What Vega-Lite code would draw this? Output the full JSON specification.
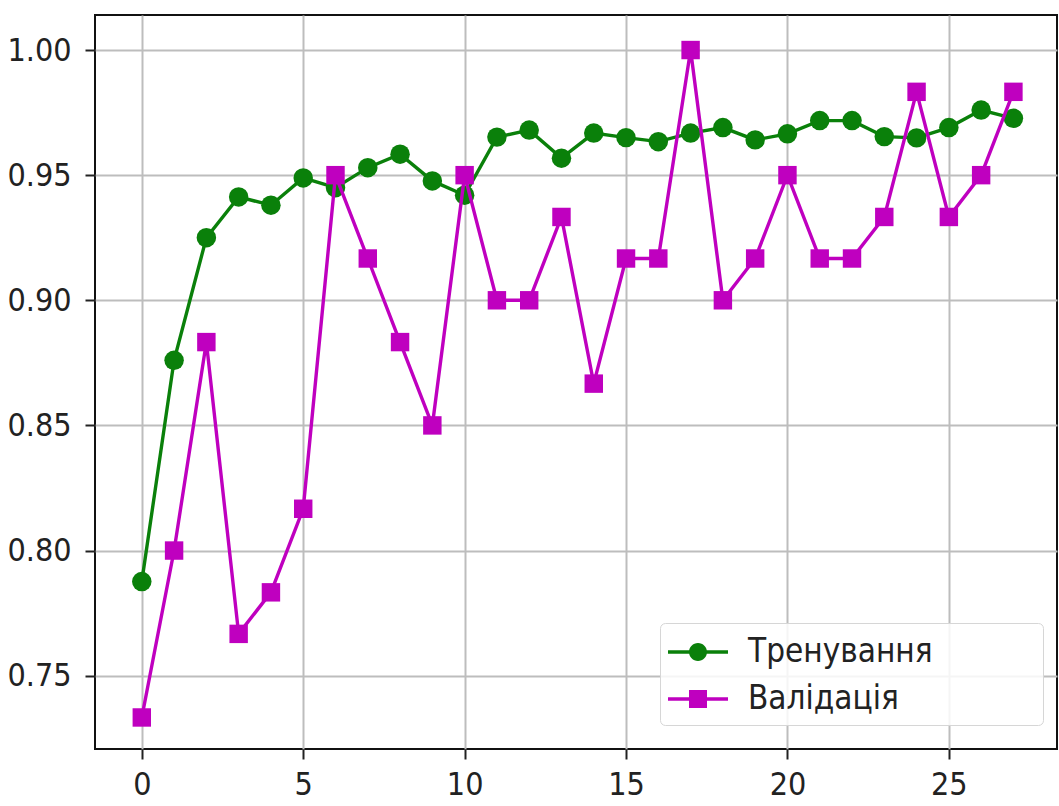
{
  "$schema": "https://vega.github.io/schema/vega-lite/v6.json",
  "width": 962,
  "height": 734,
  "autosize": {"type": "none"},
  "padding": {"left": 95, "top": 15, "right": 2, "bottom": 57},
  "background": "white",
  "config": {
    "view": {"stroke": "#111111", "strokeWidth": 2},
    "axis": {
      "domain": false,
      "grid": true,
      "gridColor": "#bdbdbd",
      "gridWidth": 2,
      "tickColor": "#222222",
      "tickWidth": 2,
      "tickSize": 10,
      "labelFont": "DejaVu Sans Condensed, DejaVu Sans",
      "labelFontSize": 32,
      "labelColor": "#222222",
      "title": null
    }
  },
  "data": {
    "values": [
      {"epoch": 0, "value": 0.7876, "series": "Тренування"},
      {"epoch": 1, "value": 0.876, "series": "Тренування"},
      {"epoch": 2, "value": 0.925, "series": "Тренування"},
      {"epoch": 3, "value": 0.9413, "series": "Тренування"},
      {"epoch": 4, "value": 0.938, "series": "Тренування"},
      {"epoch": 5, "value": 0.9489, "series": "Тренування"},
      {"epoch": 6, "value": 0.945, "series": "Тренування"},
      {"epoch": 7, "value": 0.953, "series": "Тренування"},
      {"epoch": 8, "value": 0.9584, "series": "Тренування"},
      {"epoch": 9, "value": 0.9477, "series": "Тренування"},
      {"epoch": 10, "value": 0.942, "series": "Тренування"},
      {"epoch": 11, "value": 0.9652, "series": "Тренування"},
      {"epoch": 12, "value": 0.968, "series": "Тренування"},
      {"epoch": 13, "value": 0.9568, "series": "Тренування"},
      {"epoch": 14, "value": 0.9668, "series": "Тренування"},
      {"epoch": 15, "value": 0.965, "series": "Тренування"},
      {"epoch": 16, "value": 0.9634, "series": "Тренування"},
      {"epoch": 17, "value": 0.9668, "series": "Тренування"},
      {"epoch": 18, "value": 0.969, "series": "Тренування"},
      {"epoch": 19, "value": 0.9641, "series": "Тренування"},
      {"epoch": 20, "value": 0.9665, "series": "Тренування"},
      {"epoch": 21, "value": 0.9718, "series": "Тренування"},
      {"epoch": 22, "value": 0.9718, "series": "Тренування"},
      {"epoch": 23, "value": 0.9654, "series": "Тренування"},
      {"epoch": 24, "value": 0.9649, "series": "Тренування"},
      {"epoch": 25, "value": 0.969, "series": "Тренування"},
      {"epoch": 26, "value": 0.976, "series": "Тренування"},
      {"epoch": 27, "value": 0.9727, "series": "Тренування"},
      {"epoch": 0, "value": 0.7333, "series": "Валідація"},
      {"epoch": 1, "value": 0.8, "series": "Валідація"},
      {"epoch": 2, "value": 0.8833, "series": "Валідація"},
      {"epoch": 3, "value": 0.7667, "series": "Валідація"},
      {"epoch": 4, "value": 0.7833, "series": "Валідація"},
      {"epoch": 5, "value": 0.8167, "series": "Валідація"},
      {"epoch": 6, "value": 0.95, "series": "Валідація"},
      {"epoch": 7, "value": 0.9167, "series": "Валідація"},
      {"epoch": 8, "value": 0.8833, "series": "Валідація"},
      {"epoch": 9, "value": 0.85, "series": "Валідація"},
      {"epoch": 10, "value": 0.95, "series": "Валідація"},
      {"epoch": 11, "value": 0.9, "series": "Валідація"},
      {"epoch": 12, "value": 0.9, "series": "Валідація"},
      {"epoch": 13, "value": 0.9333, "series": "Валідація"},
      {"epoch": 14, "value": 0.8667, "series": "Валідація"},
      {"epoch": 15, "value": 0.9167, "series": "Валідація"},
      {"epoch": 16, "value": 0.9167, "series": "Валідація"},
      {"epoch": 17, "value": 1.0, "series": "Валідація"},
      {"epoch": 18, "value": 0.9, "series": "Валідація"},
      {"epoch": 19, "value": 0.9167, "series": "Валідація"},
      {"epoch": 20, "value": 0.95, "series": "Валідація"},
      {"epoch": 21, "value": 0.9167, "series": "Валідація"},
      {"epoch": 22, "value": 0.9167, "series": "Валідація"},
      {"epoch": 23, "value": 0.9333, "series": "Валідація"},
      {"epoch": 24, "value": 0.9833, "series": "Валідація"},
      {"epoch": 25, "value": 0.9333, "series": "Валідація"},
      {"epoch": 26, "value": 0.95, "series": "Валідація"},
      {"epoch": 27, "value": 0.9833, "series": "Валідація"}
    ]
  },
  "encoding": {
    "x": {
      "field": "epoch",
      "type": "quantitative",
      "scale": {"domain": [-1.45, 28.35], "nice": false, "zero": false},
      "axis": {"values": [0, 5, 10, 15, 20, 25], "labelPadding": 10}
    },
    "y": {
      "field": "value",
      "type": "quantitative",
      "scale": {"domain": [0.7207, 1.014], "nice": false, "zero": false},
      "axis": {"values": [0.75, 0.8, 0.85, 0.9, 0.95, 1.0], "format": ".2f", "labelPadding": 14}
    },
    "color": {
      "field": "series",
      "type": "nominal",
      "scale": {"domain": ["Тренування", "Валідація"], "range": ["#0a800a", "#bf00bf"]},
      "legend": {
        "title": null,
        "orient": "none",
        "legendX": 565,
        "legendY": 608,
        "direction": "vertical",
        "padding": 9,
        "rowPadding": 10,
        "symbolSize": 1600,
        "symbolOffset": 9,
        "symbolStrokeWidth": 0,
        "symbolOpacity": 1,
        "labelOffset": 30,
        "labelLimit": 600,
        "labelFont": "DejaVu Sans Condensed, DejaVu Sans",
        "labelFontSize": 33,
        "labelColor": "#222222",
        "fillColor": "rgba(255,255,255,0.85)",
        "strokeColor": "#d6d6d6",
        "cornerRadius": 5,
        "encode": {
          "symbols": {
            "update": {
              "shape": {"signal": "datum.value === 'Тренування' ? 'M-1.5,-0.085H1.5V0.085H-1.5Z M0.45,0A0.45,0.45 0 1,1 -0.45,0A0.45,0.45 0 1,1 0.45,0Z M16.8,0' : 'M-1.5,-0.085H1.5V0.085H-1.5Z M-0.45,-0.45H0.45V0.45H-0.45Z M16.8,0'"}
            }
          }
        }
      }
    }
  },
  "layer": [
    {
      "transform": [{"filter": "datum.series === 'Тренування'"}],
      "mark": {"type": "line", "strokeWidth": 3.4}
    },
    {
      "transform": [{"filter": "datum.series === 'Тренування'"}],
      "mark": {"type": "point", "filled": true, "opacity": 1, "size": 380, "shape": "circle"}
    },
    {
      "transform": [{"filter": "datum.series === 'Валідація'"}],
      "mark": {"type": "line", "strokeWidth": 3.4}
    },
    {
      "transform": [{"filter": "datum.series === 'Валідація'"}],
      "mark": {"type": "point", "filled": true, "opacity": 1, "size": 340, "shape": "square"}
    }
  ]
}
